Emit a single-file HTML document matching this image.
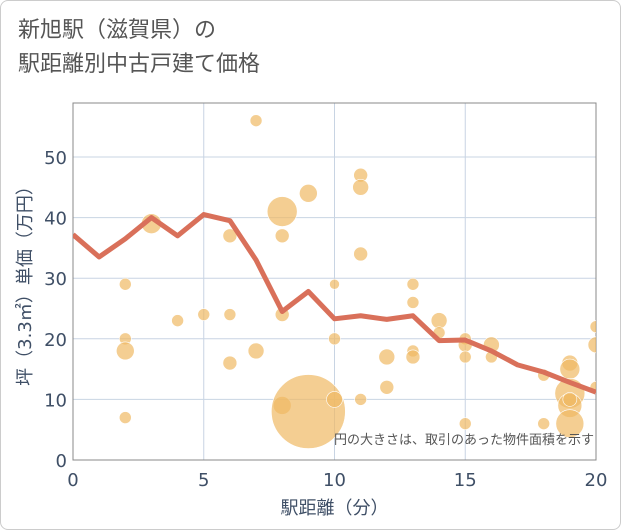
<!DOCTYPE html>
<html><head><meta charset="utf-8"><style>
body{margin:0;background:#fff;font-family:"DejaVu Sans","Noto Sans CJK JP",sans-serif}
#wrap{position:relative;width:619px;height:528px;border:1px solid #ccc;border-radius:8px;overflow:hidden}
#title{position:absolute;left:17px;top:12px;font-size:22px;line-height:34px;color:#555;font-family:"Liberation Sans","Noto Sans CJK JP",sans-serif}
</style></head><body>
<div id="wrap">
<div id="title">新旭駅（滋賀県）の<br>駅距離別中古戸建て価格</div>
<svg id="c" width="621" height="530" style="position:absolute;left:-1px;top:-1px"></svg>
</div>
<script>
const xTicks=[0,5,10,15,20];
const yTicks=[0,10,20,30,40,50];
const bubX=[2,2,2,2,3,4,5,6,6,6,7,7,8,8,8,8,9,9,10,10,10,11,11,11,11,12,12,13,13,13,13,14,14,15,15,15,15,16,16,18,18,19,19,19,19,19,19,20,20,20];
const bubY=[29,20,18,7,39,23,24,37,24,16,56,18,41,37,24,9,44,8,29,20,10,47,45,34,10,17,12,29,26,18,17,23,21,20,19,17,6,19,17,14,6,16,15,11,9,10,6,22,19,12];
const bubSize=[6,6,9,6,10,6,6,7,6,7,6,8,15,7,7,9,9,37,5,6,8,7,8,7,6,8,7,6,6,6,7,8,6,6,7,6,6,8,6,6,6,8,10,15,12,7,14,6,8,6];
const lineX=[0,1,2,3,4,5,6,7,8,9,10,11,12,13,14,15,16,17,18,19,20];
const lineY=[37.2,33.5,36.5,40,37,40.5,39.5,33,24.5,27.8,23.3,23.8,23.2,23.8,19.7,19.8,18,15.7,14.5,12.8,11.2];
const L=73,R=596,T=103,B=460;
const sx=v=>L+(R-L)*v/20, sy=v=>B-(B-157)*v/50;
const svg=document.getElementById('c');const NS='http://www.w3.org/2000/svg';
function mk(t,a,p){const e=document.createElementNS(NS,t);for(const k in a)e.setAttribute(k,a[k]);(p||svg).appendChild(e);return e;}
const clip=mk('clipPath',{id:'pc'});mk('rect',{x:L,y:T,width:R-L,height:B-T},clip);
xTicks.forEach(v=>{const g=mk('line',{x1:sx(v),x2:sx(v),y1:T,y2:B,stroke:'#c8d4e3'});

const t=mk('text',{x:sx(v),y:B+26,'text-anchor':'middle','font-size':18,fill:'#3f4f66'});t.textContent=v;
});
yTicks.forEach(v=>{const g=mk('line',{x1:L,x2:R,y1:sy(v),y2:sy(v),stroke:'#c8d4e3'});

const t=mk('text',{x:L-6,y:sy(v)+7,'text-anchor':'end','font-size':18,fill:'#3f4f66'});t.textContent=v;
});
const fr=mk('rect',{x:L,y:T,width:R-L,height:B-T,fill:'none',stroke:'#888'});

const gb=mk('g',{'clip-path':'url(#pc)'});
bubX.forEach((x,i)=>{const c=mk('circle',{cx:sx(x),cy:sy(bubY[i]),r:bubSize[i],fill:'rgba(240,185,100,0.7)',stroke:'#fff','stroke-width':0.6},gb);
});
const pl=mk('polyline',{points:lineX.map((x,i)=>sx(x)+','+sy(lineY[i])).join(' '),fill:'none',stroke:'#d9705a','stroke-width':5,'stroke-linejoin':'round'},gb);

const n=mk('text',{x:594,y:444,'text-anchor':'end','font-size':13,fill:'#555','font-family':'"Noto Sans CJK JP",sans-serif'});n.textContent='円の大きさは、取引のあった物件面積を示す';

const xt=mk('text',{x:(L+R)/2,y:514,'text-anchor':'middle','font-size':18,fill:'#3f4f66'});xt.textContent='駅距離（分）';

const yt=mk('text',{x:0,y:0,'text-anchor':'middle','font-size':18,fill:'#3f4f66',transform:'translate(31,'+(T+B)/2+') rotate(-90)'});yt.textContent='坪（3.3㎡）単価（万円）';

</script>
</body></html>
